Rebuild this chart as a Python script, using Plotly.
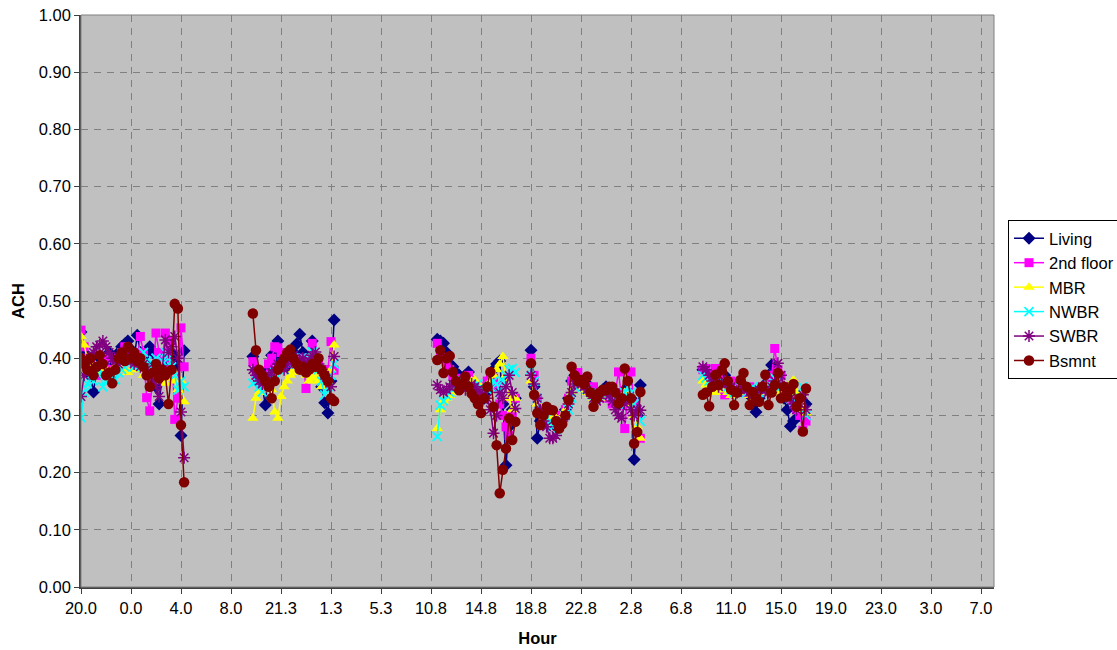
import plotly.graph_objects as go

# ---------------- data ----------------
hour_labels = ["20.0", "0.0", "4.0", "8.0", "21.3", "1.3", "5.3", "10.8", "14.8", "18.8",
               "22.8", "2.8", "6.8", "11.0", "15.0", "19.0", "23.0", "3.0", "7.0"]
label_step = 16          # categories between hour labels (15-min readings)
n_categories = 293

# first category index of each run of readings (blank cells between runs)
segment_starts = [0, 55, 114, 144, 199]

living = [
    [0.446, 0.41, 0.39, 0.37, 0.341, 0.38, 0.40, 0.39, 0.40, 0.41, 0.40, 0.39, 0.41, 0.42, 0.425, 0.43, 0.415,
     0.40, 0.44, 0.41, 0.40, 0.39, 0.42, 0.41, 0.35, 0.32, 0.37, 0.40, 0.39, 0.41, 0.40, 0.39, 0.265, 0.413],
    [0.403, 0.38, 0.36, 0.35, 0.318, 0.38, 0.405, 0.39, 0.43, 0.40, 0.39, 0.385, 0.40, 0.41, 0.425, 0.442, 0.41,
     0.40, 0.395, 0.43, 0.40, 0.38, 0.35, 0.322, 0.304, 0.36, 0.467],
    [0.433, 0.43, 0.426, 0.41, 0.39, 0.385, 0.375, 0.37, 0.365, 0.37, 0.376, 0.36, 0.35, 0.345, 0.34, 0.33,
     0.34, 0.36, 0.38, 0.39, 0.395, 0.32, 0.213, 0.28, 0.31, 0.33],
    [0.414, 0.35, 0.26, 0.29, 0.30, 0.31, 0.30, 0.29, 0.28, 0.29, 0.30, 0.31, 0.33, 0.36, 0.37, 0.365, 0.36,
     0.35, 0.355, 0.345, 0.34, 0.335, 0.34, 0.345, 0.35, 0.34, 0.335, 0.33, 0.32, 0.33, 0.345, 0.34, 0.33,
     0.223, 0.30, 0.353],
    [0.38, 0.375, 0.37, 0.36, 0.355, 0.35, 0.36, 0.37, 0.36, 0.35, 0.345, 0.35, 0.355, 0.35, 0.34, 0.335,
     0.32, 0.306, 0.33, 0.345, 0.355, 0.37, 0.388, 0.37, 0.35, 0.34, 0.33, 0.31, 0.281, 0.29, 0.31, 0.30,
     0.30, 0.32],
]
second_floor = [
    [0.449, 0.42, 0.40, 0.39, 0.38, 0.37, 0.385, 0.395, 0.40, 0.38, 0.365, 0.39, 0.40, 0.41, 0.42, 0.405, 0.40,
     0.41, 0.395, 0.438, 0.41, 0.331, 0.308, 0.37, 0.444, 0.41, 0.40, 0.444, 0.38, 0.43, 0.293, 0.33, 0.453,
     0.385],
    [0.394, 0.37, 0.36, 0.355, 0.37, 0.39, 0.40, 0.42, 0.418, 0.41, 0.39, 0.40, 0.395, 0.40, 0.38, 0.39, 0.40,
     0.347, 0.38, 0.426, 0.40, 0.39, 0.37, 0.36, 0.38, 0.429, 0.379],
    [0.426, 0.41, 0.40, 0.39, 0.38, 0.37, 0.365, 0.36, 0.355, 0.36, 0.37, 0.355, 0.35, 0.345, 0.34, 0.35,
     0.36, 0.37, 0.365, 0.35, 0.32, 0.30, 0.28, 0.265, 0.30, 0.33],
    [0.40, 0.37, 0.33, 0.31, 0.30, 0.29, 0.295, 0.30, 0.29, 0.285, 0.30, 0.31, 0.33, 0.36, 0.37, 0.375, 0.36,
     0.355, 0.35, 0.345, 0.35, 0.34, 0.33, 0.34, 0.345, 0.33, 0.32, 0.34, 0.376, 0.33, 0.277, 0.34, 0.376,
     0.32, 0.30, 0.26],
    [0.38, 0.382, 0.37, 0.36, 0.382, 0.37, 0.35, 0.336, 0.35, 0.36, 0.355, 0.35, 0.345, 0.34, 0.345, 0.35,
     0.34, 0.335, 0.34, 0.345, 0.35, 0.36, 0.37, 0.417, 0.38, 0.37, 0.35, 0.34, 0.33, 0.32, 0.31, 0.30,
     0.274, 0.29],
]
mbr = [
    [0.438, 0.423, 0.40, 0.39, 0.385, 0.375, 0.38, 0.39, 0.38, 0.375, 0.38, 0.385, 0.39, 0.395, 0.38, 0.375,
     0.38, 0.385, 0.39, 0.38, 0.37, 0.375, 0.38, 0.36, 0.362, 0.37, 0.375, 0.356, 0.365, 0.38, 0.36, 0.345,
     0.36, 0.324],
    [0.295, 0.33, 0.34, 0.355, 0.36, 0.35, 0.345, 0.306, 0.295, 0.333, 0.35, 0.36, 0.37, 0.38, 0.375, 0.38,
     0.385, 0.37, 0.36, 0.365, 0.37, 0.36, 0.35, 0.355, 0.36, 0.38, 0.423],
    [0.277, 0.31, 0.325, 0.33, 0.335, 0.34, 0.345, 0.35, 0.355, 0.35, 0.345, 0.36, 0.362, 0.355, 0.35, 0.345,
     0.35, 0.36, 0.37, 0.38, 0.39, 0.403, 0.37, 0.33, 0.31, 0.33],
    [0.36, 0.34, 0.32, 0.30, 0.29, 0.285, 0.29, 0.30, 0.295, 0.29, 0.30, 0.31, 0.32, 0.34, 0.35, 0.355, 0.35,
     0.345, 0.34, 0.335, 0.33, 0.325, 0.33, 0.335, 0.34, 0.335, 0.33, 0.325, 0.32, 0.33, 0.34, 0.335, 0.32,
     0.30, 0.28, 0.26],
    [0.36, 0.353, 0.35, 0.345, 0.34, 0.345, 0.35, 0.345, 0.34, 0.335, 0.34, 0.345, 0.35, 0.345, 0.34, 0.335,
     0.33, 0.335, 0.34, 0.345, 0.35, 0.345, 0.34, 0.35, 0.345, 0.34, 0.335, 0.345, 0.355, 0.362, 0.34, 0.32,
     0.31, 0.304],
]
nwbr = [
    [0.296, 0.34, 0.355, 0.37, 0.36, 0.375, 0.38, 0.35, 0.36, 0.37, 0.365, 0.362, 0.375, 0.38, 0.385, 0.39,
     0.395, 0.385, 0.39, 0.40, 0.41, 0.395, 0.385, 0.39, 0.40, 0.38, 0.395, 0.41, 0.40, 0.385, 0.37, 0.344,
     0.36, 0.35],
    [0.356, 0.36, 0.35, 0.341, 0.35, 0.36, 0.37, 0.375, 0.38, 0.385, 0.38, 0.39, 0.395, 0.40, 0.39, 0.395,
     0.40, 0.39, 0.40, 0.411, 0.40, 0.38, 0.36, 0.336, 0.35, 0.37, 0.39],
    [0.263, 0.318, 0.325, 0.335, 0.34, 0.345, 0.35, 0.355, 0.36, 0.355, 0.35, 0.345, 0.35, 0.355, 0.35, 0.34,
     0.345, 0.35, 0.36, 0.355, 0.34, 0.36, 0.37, 0.38, 0.382, 0.375],
    [0.38, 0.36, 0.33, 0.31, 0.30, 0.295, 0.29, 0.28, 0.275, 0.28, 0.29, 0.30, 0.31, 0.33, 0.35, 0.36, 0.355,
     0.35, 0.345, 0.34, 0.335, 0.33, 0.335, 0.34, 0.345, 0.34, 0.335, 0.33, 0.32, 0.33, 0.34, 0.35, 0.34,
     0.32, 0.30, 0.29],
    [0.37, 0.365, 0.36, 0.355, 0.35, 0.355, 0.36, 0.355, 0.35, 0.345, 0.34, 0.345, 0.35, 0.345, 0.34, 0.345,
     0.35, 0.345, 0.34, 0.345, 0.35, 0.355, 0.36, 0.365, 0.36, 0.35, 0.34, 0.335, 0.33, 0.325, 0.32, 0.33,
     0.35, 0.30],
]
swbr = [
    [0.333, 0.37, 0.385, 0.40, 0.41, 0.42, 0.423, 0.43, 0.42, 0.41, 0.40, 0.395, 0.39, 0.40, 0.41, 0.40, 0.395,
     0.39, 0.40, 0.385, 0.39, 0.38, 0.37, 0.36, 0.35, 0.333, 0.38, 0.432, 0.41, 0.42, 0.438, 0.40, 0.306,
     0.226],
    [0.38, 0.37, 0.36, 0.355, 0.36, 0.37, 0.375, 0.38, 0.39, 0.385, 0.38, 0.39, 0.40, 0.405, 0.39, 0.395, 0.40,
     0.39, 0.395, 0.405, 0.411, 0.39, 0.38, 0.37, 0.36, 0.35, 0.403],
    [0.353, 0.345, 0.34, 0.345, 0.35, 0.355, 0.36, 0.355, 0.35, 0.345, 0.35, 0.355, 0.35, 0.345, 0.34, 0.335,
     0.33, 0.31, 0.269, 0.30, 0.34, 0.33, 0.35, 0.37, 0.34, 0.312],
    [0.37, 0.355, 0.33, 0.31, 0.29, 0.28, 0.26, 0.26, 0.265, 0.28, 0.29, 0.30, 0.32, 0.34, 0.355, 0.36, 0.355,
     0.35, 0.345, 0.34, 0.33, 0.325, 0.33, 0.34, 0.345, 0.335, 0.325, 0.31, 0.30, 0.295, 0.32, 0.33, 0.31,
     0.30, 0.31, 0.309],
    [0.385, 0.38, 0.37, 0.36, 0.355, 0.35, 0.355, 0.36, 0.355, 0.35, 0.345, 0.34, 0.345, 0.35, 0.345, 0.34,
     0.335, 0.34, 0.345, 0.35, 0.345, 0.34, 0.35, 0.36, 0.391, 0.37, 0.35, 0.34, 0.33, 0.32, 0.31, 0.32,
     0.336, 0.31],
]
bsmnt = [
    [0.40, 0.39, 0.38, 0.40, 0.37, 0.385, 0.405, 0.39, 0.37, 0.375, 0.356, 0.38, 0.40, 0.41, 0.395, 0.42, 0.40,
     0.41, 0.395, 0.40, 0.385, 0.37, 0.35, 0.375, 0.39, 0.365, 0.38, 0.37, 0.32, 0.38, 0.495, 0.487, 0.283,
     0.183],
    [0.478, 0.414, 0.38, 0.37, 0.36, 0.35, 0.33, 0.36, 0.38, 0.39, 0.40, 0.41, 0.415, 0.40, 0.39, 0.38, 0.385,
     0.375, 0.38, 0.39, 0.385, 0.40, 0.38, 0.37, 0.36, 0.33, 0.325],
    [0.397, 0.414, 0.374, 0.40, 0.404, 0.376, 0.36, 0.344, 0.355, 0.368, 0.35, 0.338, 0.33, 0.32, 0.304, 0.33,
     0.35, 0.376, 0.315, 0.248, 0.164, 0.205, 0.242, 0.295, 0.257, 0.289],
    [0.391, 0.336, 0.304, 0.283, 0.30, 0.315, 0.31, 0.309, 0.29, 0.277, 0.285, 0.30, 0.327, 0.385, 0.37, 0.36,
     0.362, 0.355, 0.368, 0.34, 0.315, 0.33, 0.34, 0.345, 0.344, 0.35, 0.35, 0.34, 0.321, 0.33, 0.382, 0.36,
     0.33, 0.251, 0.271, 0.341],
    [0.336, 0.34, 0.316, 0.35, 0.371, 0.353, 0.379, 0.391, 0.36, 0.345, 0.318, 0.34, 0.362, 0.374, 0.35, 0.318,
     0.341, 0.33, 0.324, 0.35, 0.371, 0.318, 0.34, 0.353, 0.374, 0.33, 0.35, 0.333, 0.345, 0.355, 0.315, 0.33,
     0.272, 0.347],
]

series_names = ["Living", "2nd floor", "MBR", "NWBR", "SWBR", "Bsmnt"]
series_values = [living, second_floor, mbr, nwbr, swbr, bsmnt]

# ---------------- styles ----------------
styles = [
    dict(color="#000080", symbol="diamond", size=10, lw=0),
    dict(color="#FF00FF", symbol="square", size=9, lw=0),
    dict(color="#FFFF00", symbol="triangle-up", size=10, lw=0),
    dict(color="#00FFFF", symbol="x-thin", size=9, lw=1.8),
    dict(color="#800080", symbol="asterisk", size=10, lw=1.5),
    dict(color="#800000", symbol="circle", size=10.5, lw=0),
]


def build_xy(segments):
    xs, ys = [], []
    for start, vals in zip(segment_starts, segments):
        if xs:
            xs.append(None)
            ys.append(None)
        xs.extend(range(start, start + len(vals)))
        ys.extend(vals)
    return xs, ys


fig = go.Figure()
for i, (name, segs, st) in enumerate(zip(series_names, series_values, styles)):
    xs, ys = build_xy(segs)
    marker = dict(color=st["color"], symbol=st["symbol"], size=st["size"])
    if st["lw"] > 0:
        marker["line"] = dict(color=st["color"], width=st["lw"])
    else:
        marker["line"] = dict(width=0)
    fig.add_trace(go.Scatter(
        x=xs, y=ys, name=name, mode="lines+markers",
        line=dict(color=st["color"], width=1.5),
        marker=marker, connectgaps=False,
    ))

font_family = "Liberation Sans, Arial, sans-serif"
fs = 16.5
tickvals = [k * label_step for k in range(len(hour_labels))]
x_end = (994 - 81) / 50 * label_step
grid_dash = "7px,6px"

fig.update_layout(
    width=1117, height=650,
    margin=dict(l=81, r=123, t=15, b=63, autoexpand=False),
    paper_bgcolor="white",
    plot_bgcolor="#C0C0C0",
    font=dict(family=font_family, size=fs, color="black"),
    showlegend=True,
    legend=dict(
        x=(1008 - 81) / 913, xanchor="left",
        y=0.5026, yanchor="middle",
        bgcolor="white", bordercolor="black", borderwidth=1,
        font=dict(size=fs, family=font_family),
        traceorder="normal",
        itemwidth=30,
    ),
    xaxis=dict(
        range=[0, x_end], tickmode="array", tickvals=tickvals, ticktext=hour_labels,
        showgrid=True, gridcolor="#808080", griddash=grid_dash, gridwidth=1,
        zeroline=False, showline=True, linecolor="#404040", linewidth=1.5,
        ticks="outside", ticklen=5, tickcolor="#404040", automargin=False,
        title=dict(text="<b>Hour</b>", font=dict(size=fs), standoff=17),
        tickfont=dict(size=fs),
    ),
    yaxis=dict(
        range=[0, 1], dtick=0.1, tickformat=".2f",
        showgrid=True, gridcolor="#808080", griddash=grid_dash, gridwidth=1,
        zeroline=False, showline=True, linecolor="#404040", linewidth=1.5,
        ticks="outside", ticklen=5, tickcolor="#404040", automargin=False,
        title=dict(text="<b>ACH</b>", font=dict(size=fs), standoff=10),
        tickfont=dict(size=fs),
    ),
)

# plot-area border (top and right edges in grey)
fig.add_shape(type="rect", xref="paper", yref="paper", x0=0, y0=0, x1=1, y1=1,
              line=dict(color="#808080", width=1), layer="above")

fig.write_html("out.html", config={"displayModeBar": False},
               post_script="document.body.style.margin='0px';")
